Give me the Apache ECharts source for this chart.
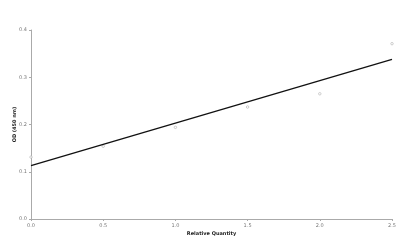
<!DOCTYPE html>
<html><head><meta charset="utf-8">
<script src="https://cdn.jsdelivr.net/npm/echarts@6/dist/echarts.min.js"></script>
<style>html,body{margin:0;padding:0;background:#fff}#c{width:400px;height:247px}</style>
</head><body><div id="c"></div>
<script>
const pointX = [0, 0.5, 1.0, 1.5, 2.0, 2.5];
const pointY = [0.131, 0.154, 0.194, 0.237, 0.265, 0.371];
const fitX = [0, 2.5];
const fitY = [0.113, 0.338];
const xTicks = ['0.0','0.5','1.0','1.5','2.0','2.5'];
const yTicks = ['0.0','0.1','0.2','0.3','0.4'];
const chart = echarts.init(document.getElementById('c'), null, {renderer:'canvas'});
const lbl = {fontFamily:'DejaVu Sans', fontSize:5, color:'#777'};
chart.setOption({
  animation:false,
  grid:{left:31, right:8, top:30, bottom:28, containLabel:false, outerBoundsMode:'none'},
  xAxis:{type:'value', min:0, max:2.5, interval:0.5,
    name:'Relative Quantity', nameLocation:'middle', nameGap:12, nameMoveOverlap:false,
    nameTextStyle:{fontFamily:'DejaVu Sans', fontSize:5, fontWeight:'bold', color:'#222'},
    axisLine:{lineStyle:{color:'#aaa', width:1}},
    axisTick:{show:true, length:2, lineStyle:{color:'#aaa'}},
    splitLine:{show:false},
    axisLabel:Object.assign({margin:4, formatter:(v)=>xTicks[Math.round(v/0.5)]}, lbl)},
  yAxis:{type:'value', min:0, max:0.4, interval:0.1,
    name:'OD (450 nm)', nameLocation:'middle', nameGap:14, nameRotate:90, nameMoveOverlap:false,
    nameTextStyle:{fontFamily:'DejaVu Sans', fontSize:5, fontWeight:'bold', color:'#222'},
    axisLine:{show:true, lineStyle:{color:'#aaa', width:1}},
    axisTick:{show:true, length:2, lineStyle:{color:'#aaa'}},
    splitLine:{show:false},
    axisLabel:Object.assign({margin:4, formatter:(v)=>yTicks[Math.round(v/0.1)]}, lbl)},
  series:[
    {type:'scatter', data:pointX.map((x,i)=>[x,pointY[i]]), symbol:'circle', symbolSize:2.5,
     itemStyle:{color:'#fff', borderColor:'#aaa', borderWidth:0.7}, z:1},
    {type:'line', data:fitX.map((x,i)=>[x,fitY[i]]), symbol:'none',
     lineStyle:{color:'#111', width:1.3}, z:4}
  ]
});
</script></body></html>
